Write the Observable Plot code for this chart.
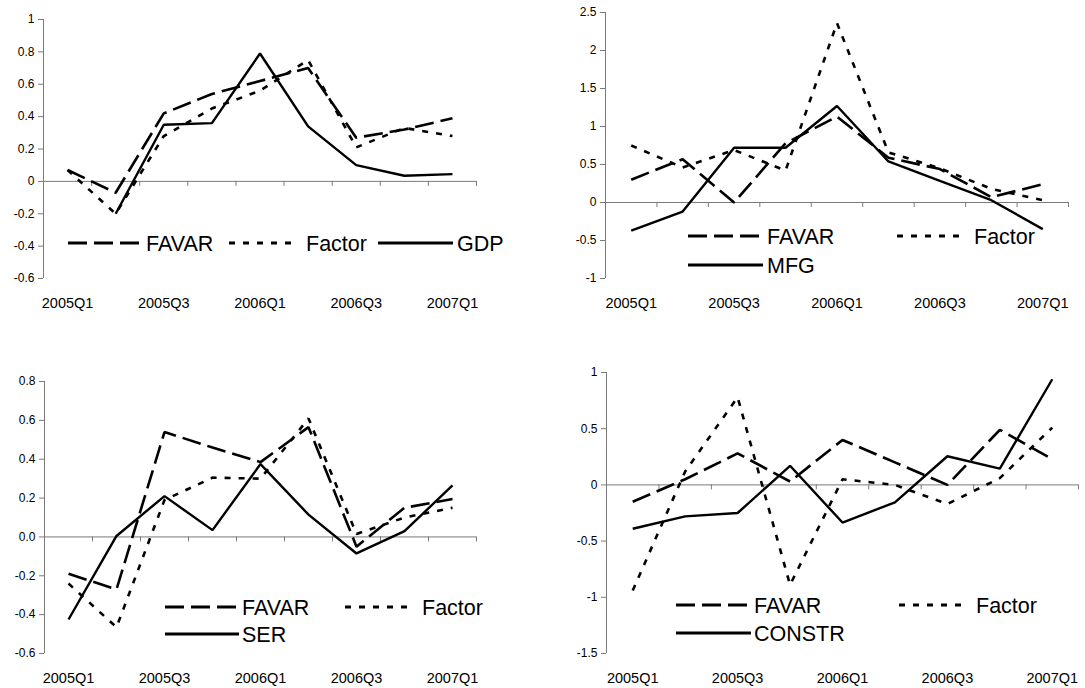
<!DOCTYPE html>
<html><head><meta charset="utf-8">
<script src="https://cdn.jsdelivr.net/npm/d3@7"></script>
<script src="https://cdn.jsdelivr.net/npm/@observablehq/plot@0.6"></script>
<style>
body{margin:0;background:#fff;}
#wrap{position:relative;width:1085px;height:688px;overflow:hidden;font-family:"Liberation Sans",Arial,sans-serif;background:#fff;}
.panel{position:absolute;}
#legend{position:absolute;left:0;top:0;pointer-events:none;}
</style></head><body><div id="wrap"></div>
<script>
// ---- data ----
const quarters = ["2005Q1","2005Q2","2005Q3","2005Q4","2006Q1","2006Q2","2006Q3","2006Q4","2007Q1"];
const xTickLabels = ["2005Q1","2005Q3","2006Q1","2006Q3","2007Q1"];

const gdpFavar  = [0.07, -0.07, 0.42, 0.54, 0.62, 0.70, 0.27, 0.32, 0.39];
const gdpFactor = [0.07, -0.20, 0.28, 0.45, 0.56, 0.75, 0.21, 0.33, 0.28];
const gdpActual = [null, -0.20, 0.35, 0.36, 0.79, 0.34, 0.10, 0.035, 0.045];

const mfgFavar  = [0.30, 0.57, 0.00, 0.78, 1.13, 0.59, 0.44, 0.07, 0.24];
const mfgFactor = [0.75, 0.46, 0.69, 0.42, 2.36, 0.66, 0.45, 0.18, 0.03];
const mfgActual = [-0.37, -0.12, 0.72, 0.72, 1.27, 0.54, 0.285, 0.03, -0.35];

const serFavar  = [-0.19, -0.27, 0.54, 0.46, 0.385, 0.565, -0.05, 0.15, 0.195];
const serFactor = [-0.24, -0.465, 0.19, 0.305, 0.30, 0.61, 0.015, 0.10, 0.15];
const serActual = [-0.425, 0.005, 0.21, 0.035, 0.375, 0.115, -0.085, 0.03, 0.265];

const conFavar  = [-0.15, 0.05, 0.28, 0.03, 0.40, 0.20, 0.00, 0.49, 0.23];
const conFactor = [-0.94, 0.12, 0.78, -0.89, 0.05, 0.00, -0.17, 0.06, 0.51];
const conActual = [-0.39, -0.28, -0.25, 0.17, -0.335, -0.155, 0.255, 0.145, 0.94];

const yTicksGDP = [1, 0.8, 0.6, 0.4, 0.2, 0, -0.2, -0.4, -0.6];
const yLabelsGDP = ["1","0.8","0.6","0.4","0.2","0","-0.2","-0.4","-0.6"];
const yTicksMFG = [2.5, 2, 1.5, 1, 0.5, 0, -0.5, -1];
const yLabelsMFG = ["2.5","2","1.5","1","0.5","0","-0.5","-1"];
const yTicksSER = [0.8, 0.6, 0.4, 0.2, 0, -0.2, -0.4, -0.6];
const yLabelsSER = ["0.8","0.6","0.4","0.2","0.0","-0.2","-0.4","-0.6"];
const yTicksCON = [1, 0.5, 0, -0.5, -1, -1.5];
const yLabelsCON = ["1","0.5","0","-0.5","-1","-1.5"];

// ---- layout / styles ----
const styles = {
  FAVAR:  {dash: "19,7", width: 2.6},
  Factor: {dash: "6,8",  width: 2.6},
  actual: {dash: null,   width: 2.4}
};

const panels = [
  {name:"GDP", favar:gdpFavar, factor:gdpFactor, actual:gdpActual, ticks:yTicksGDP, labels:yLabelsGDP,
   left:0, top:0, w:540, h:340, axisX:43, endX:476, yTop:19, yBot:278,
   legend:[{y:243, items:[{s:"FAVAR",x0:68,x1:141,tx:146},{s:"Factor",x0:229,x1:292,tx:306},{s:"actual",x0:378,x1:453,tx:457}]}]},
  {name:"MFG", favar:mfgFavar, factor:mfgFactor, actual:mfgActual, ticks:yTicksMFG, labels:yLabelsMFG,
   left:540, top:0, w:545, h:340, axisX:605, endX:1068, yTop:12, yBot:278,
   legend:[{y:236, items:[{s:"FAVAR",x0:688,x1:762,tx:767},{s:"Factor",x0:897,x1:960,tx:974}]},
           {y:265, items:[{s:"actual",x0:688,x1:763,tx:767}]}]},
  {name:"SER", favar:serFavar, factor:serFactor, actual:serActual, ticks:yTicksSER, labels:yLabelsSER,
   left:0, top:340, w:540, h:348, axisX:44, endX:476, yTop:381, yBot:653,
   legend:[{y:607, items:[{s:"FAVAR",x0:165,x1:238,tx:242},{s:"Factor",x0:345,x1:408,tx:422}]},
           {y:634, items:[{s:"actual",x0:165,x1:239,tx:242}]}]},
  {name:"CONSTR", favar:conFavar, factor:conFactor, actual:conActual, ticks:yTicksCON, labels:yLabelsCON,
   left:540, top:340, w:545, h:348, axisX:606, endX:1078, yTop:372, yBot:653,
   legend:[{y:605, items:[{s:"FAVAR",x0:676,x1:750,tx:754},{s:"Factor",x0:899,x1:962,tx:976}]},
           {y:633, items:[{s:"actual",x0:676,x1:751,tx:754}]}]}
];

const wrap = document.getElementById("wrap");
const axisColor = "#7a7a7a";
const fontFamily = "Liberation Sans, Arial, sans-serif";

function seriesMark(values, st) {
  return Plot.line(values, {
    x: (d, i) => i + 0.5, y: d => d,
    stroke: "black", strokeWidth: st.width,
    strokeDasharray: st.dash || undefined,
    strokeLinecap: "butt", strokeLinejoin: "miter"
  });
}

for (const p of panels) {
  const ymin = p.ticks[p.ticks.length - 1], ymax = p.ticks[0];
  const chart = Plot.plot({
    width: p.w, height: p.h,
    marginLeft: p.axisX - p.left,
    marginRight: p.left + p.w - p.endX,
    marginTop: p.yTop - p.top,
    marginBottom: p.top + p.h - p.yBot,
    style: {fontFamily, background: "white", color: "black", overflow: "visible"},
    x: {type: "linear", domain: [0, quarters.length]},
    y: {type: "linear", domain: [ymin, ymax]},
    marks: [
      Plot.axisY({ticks: p.ticks, tickFormat: d => p.labels[p.ticks.indexOf(d)],
                  tickSize: 5, tickPadding: 4, fontSize: 12, stroke: axisColor, fill: "black"}),
      Plot.axisX({ticks: xTickLabels.map(l => quarters.indexOf(l) + 0.5),
                  tickFormat: d => quarters[Math.floor(d)], tickSize: 0, tickPadding: 19,
                  fontSize: 14.5, fill: "black"}),
      Plot.ruleX([0], {stroke: axisColor}),
      Plot.ruleY([0], {stroke: axisColor}),
      Plot.ruleX(d3.range(0, quarters.length + 1), {y1: 0, y2: 0, insetBottom: -5, stroke: axisColor}),
      seriesMark(p.favar, styles.FAVAR),
      seriesMark(p.factor, styles.Factor),
      seriesMark(p.actual, styles.actual)
    ]
  });
  chart.classList.add("panel");
  chart.style.left = p.left + "px";
  chart.style.top = p.top + "px";
  wrap.appendChild(chart);
}

// ---- legends (drawn inside the plot areas, as in the original) ----
const svg = d3.select(wrap).append("svg").attr("id", "legend").attr("width", 1085).attr("height", 688);
for (const p of panels) {
  for (const row of p.legend) {
    for (const it of row.items) {
      const st = styles[it.s];
      svg.append("line").attr("x1", it.x0).attr("x2", it.x1).attr("y1", row.y).attr("y2", row.y)
        .attr("stroke", "black").attr("stroke-width", 3)
        .attr("stroke-dasharray", st.dash).attr("stroke-linecap", "butt");
      svg.append("text").attr("x", it.tx).attr("y", row.y).attr("dy", "0.36em")
        .attr("font-family", fontFamily).attr("font-size", 21.5).attr("fill", "black")
        .text(it.s === "actual" ? p.name : it.s);
    }
  }
}
</script></body></html>
